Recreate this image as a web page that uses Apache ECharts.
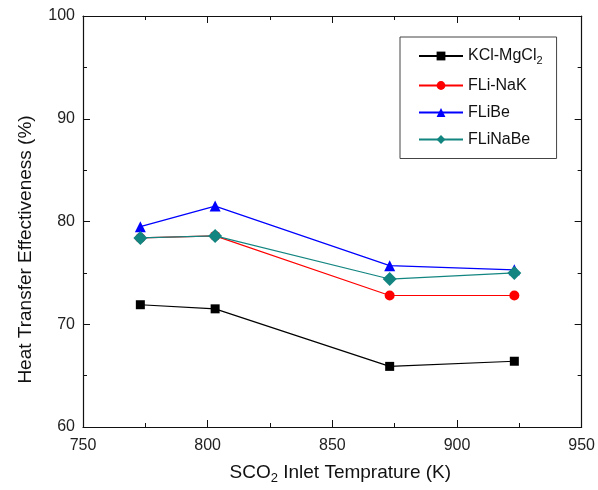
<!DOCTYPE html>
<html>
<head>
<meta charset="utf-8">
<script src="https://cdn.jsdelivr.net/npm/echarts@6/dist/echarts.min.js"></script>
<style>
  html, body { margin: 0; padding: 0; background: #fff; }
  #chart { width: 598px; height: 490px; }
</style>
</head>
<body>
<div id="chart"></div>
<script>
// 数据
const temps = [773, 803, 873, 923]
const kclMgcl2 = [71.9, 71.5, 65.9, 66.4]
const fliNak = [78.4, 78.6, 72.8, 72.8]
const flibe = [79.5, 81.5, 75.7, 75.3]
const flinabe = [78.4, 78.6, 74.4, 75.0]

const pairs = arr => temps.map((t, i) => [t, arr[i]])
const font = 'Liberation Sans, Arial, sans-serif'

const chart = echarts.init(document.getElementById('chart'))

const legendRich = {
  n: { fontFamily: font, fontSize: 16, color: '#111' },
  s: { fontFamily: font, fontSize: 11, color: '#111', padding: [10, 0, 0, 0] }
}
const titleRich = {
  n: { fontFamily: font, fontSize: 19, color: '#111' },
  s: { fontFamily: font, fontSize: 13, color: '#111', padding: [12, 0, 0, 0] }
}

function mkSeries (name, data, color, symbol, size) {
  return {
    name,
    type: 'line',
    data: pairs(data),
    symbol,
    symbolSize: size,
    itemStyle: { color },
    lineStyle: { color, width: 1.2 },
    emphasis: { disabled: true }
  }
}

const tick = { show: true, inside: true, length: 7, lineStyle: { color: '#111' } }
const minor = { show: true, splitNumber: 2, length: 4, lineStyle: { color: '#111' } }

chart.setOption({
  animation: false,
  backgroundColor: '#fff',
  grid: { left: 83, right: 15, top: 16, bottom: 62 },
  legend: {
    orient: 'vertical',
    left: 400,
    top: 37,
    width: 155,
    padding: [11, 14, 11, 18],
    itemGap: 11,
    itemWidth: 44,
    itemHeight: 11,
    borderColor: '#444',
    borderWidth: 1,
    textStyle: { fontFamily: font, fontSize: 16, color: '#111', rich: legendRich },
    formatter: name => name === 'KCl-MgCl2' ? '{n|KCl-MgCl}{s|2}' : '{n|' + name + '}'
  },
  xAxis: [
    {
      type: 'value',
      min: 750, max: 950, interval: 50,
      name: '{n|SCO}{s|2}{n| Inlet Temprature (K)}',
      nameLocation: 'middle',
      nameGap: 33,
      nameTextStyle: { rich: titleRich, padding: [0, 0, 0, 16] },
      axisLine: { onZero: false, lineStyle: { color: '#111', width: 1.2 } },
      axisTick: tick,
      minorTick: minor,
      axisLabel: { fontFamily: font, fontSize: 16, color: '#222', margin: 11 },
      splitLine: { show: false }
    },
    {
      type: 'value', position: 'top', min: 750, max: 950, interval: 50,
      axisLine: { show: true, lineStyle: { color: '#111', width: 1.2 } },
      axisTick: tick,
      minorTick: minor,
      axisLabel: { show: false },
      splitLine: { show: false }
    }
  ],
  yAxis: [
    {
      type: 'value',
      min: 60, max: 100, interval: 10,
      name: 'Heat Transfer Effectiveness (%)',
      nameLocation: 'middle',
      nameGap: 48,
      nameTextStyle: { fontFamily: font, fontSize: 19, color: '#111', padding: [0, 56, 0, 0] },
      axisLine: { show: true, onZero: false, lineStyle: { color: '#111', width: 1.2 } },
      axisTick: tick,
      minorTick: minor,
      axisLabel: { fontFamily: font, fontSize: 16, color: '#222', margin: 8 },
      splitLine: { show: false }
    },
    {
      type: 'value', position: 'right', min: 60, max: 100, interval: 10,
      axisLine: { show: true, lineStyle: { color: '#111', width: 1.2 } },
      axisTick: tick,
      minorTick: minor,
      axisLabel: { show: false },
      splitLine: { show: false }
    }
  ],
  series: [
    mkSeries('KCl-MgCl2', kclMgcl2, '#000000', 'rect', 9),
    mkSeries('FLi-NaK', fliNak, '#ff0000', 'circle', 10),
    mkSeries('FLiBe', flibe, '#0000ff', 'triangle', 11),
    mkSeries('FLiNaBe', flinabe, '#138580', 'diamond', 14)
  ]
})
</script>
</body>
</html>
